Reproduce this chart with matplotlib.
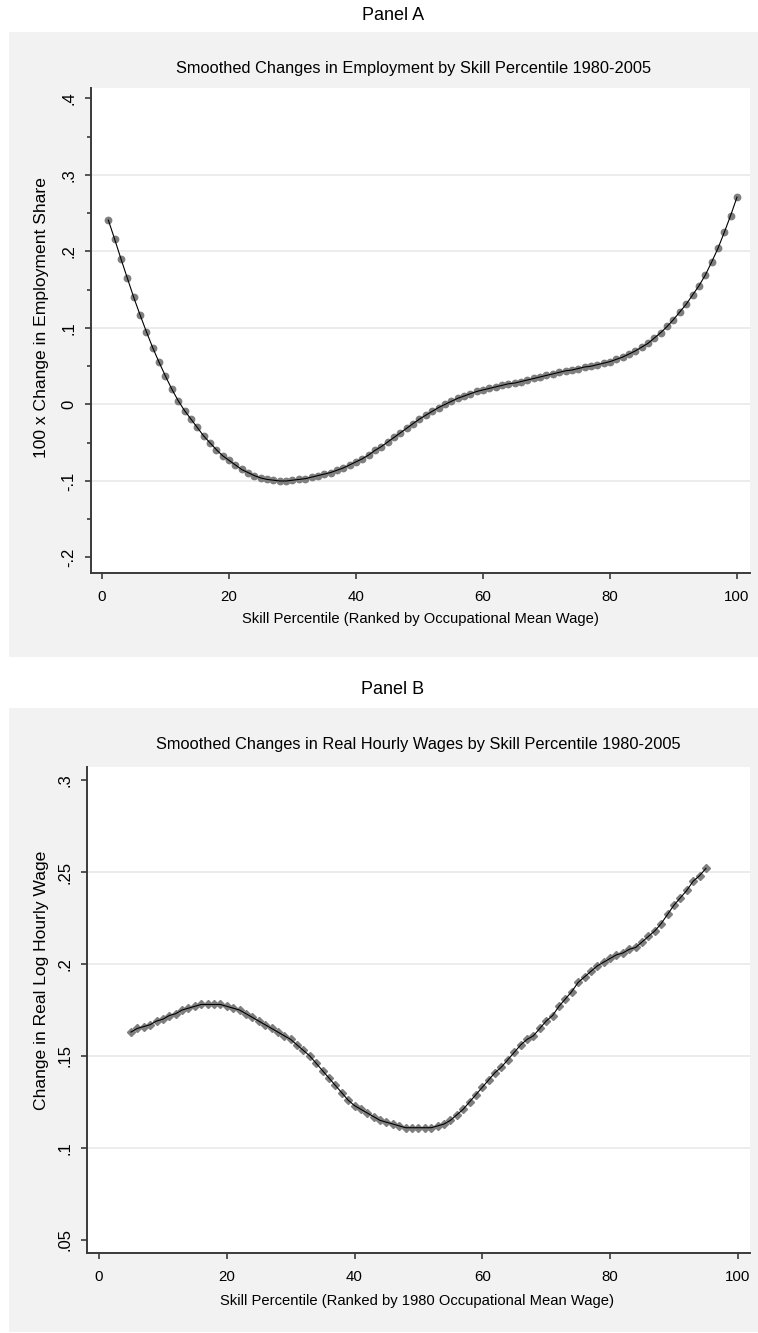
import numpy as np
import matplotlib.pyplot as plt
from matplotlib.patches import Rectangle

# Panel A: smoothed change in employment share, percentiles 1..100
emp_x = list(range(1, 101))
emp_y = [
    0.241, 0.216, 0.190, 0.165, 0.140, 0.117, 0.095, 0.074, 0.055, 0.037,
    0.020, 0.005, -0.008, -0.019, -0.030, -0.041, -0.050, -0.059, -0.067, -0.073,
    -0.079, -0.085, -0.089, -0.093, -0.096, -0.098, -0.099, -0.100, -0.100, -0.099,
    -0.098, -0.097, -0.095, -0.093, -0.091, -0.089, -0.086, -0.083, -0.079, -0.075,
    -0.071, -0.066, -0.060, -0.055, -0.049, -0.043, -0.037, -0.031, -0.025, -0.019,
    -0.014, -0.009, -0.004, 0.000, 0.004, 0.008, 0.011, 0.014, 0.017, 0.019,
    0.021, 0.023, 0.025, 0.027, 0.028, 0.030, 0.032, 0.034, 0.036, 0.038,
    0.040, 0.042, 0.044, 0.045, 0.047, 0.049, 0.050, 0.052, 0.054, 0.056,
    0.059, 0.062, 0.066, 0.070, 0.075, 0.080, 0.087, 0.094, 0.102, 0.111,
    0.121, 0.131, 0.143, 0.155, 0.169, 0.186, 0.204, 0.225, 0.247, 0.271,
]

# Panel B: smoothed change in real log hourly wage, percentiles 5..95
wage_x = list(range(5, 96))
wage_y = [
    0.163, 0.165, 0.166, 0.167, 0.169, 0.170, 0.172, 0.173, 0.175, 0.176,
    0.177, 0.178, 0.178, 0.178, 0.178, 0.177, 0.176, 0.175, 0.173, 0.171,
    0.169, 0.167, 0.165, 0.163, 0.161, 0.159, 0.156, 0.153, 0.150, 0.146,
    0.142, 0.138, 0.134, 0.130, 0.126, 0.123, 0.121, 0.119, 0.117, 0.115,
    0.114, 0.113, 0.112, 0.111, 0.111, 0.111, 0.111, 0.111, 0.112, 0.113,
    0.115, 0.118, 0.121, 0.125, 0.129, 0.133, 0.137, 0.141, 0.144, 0.148,
    0.152, 0.156, 0.159, 0.161, 0.165, 0.169, 0.172, 0.177, 0.181, 0.185,
    0.190, 0.193, 0.196, 0.199, 0.201, 0.203, 0.205, 0.206, 0.208, 0.209,
    0.212, 0.215, 0.218, 0.222, 0.227, 0.232, 0.236, 0.240, 0.245, 0.248,
    0.252,
]

x_ticks = [0, 20, 40, 60, 80, 100]
emp_ticks = [0.4, 0.3, 0.2, 0.1, 0.0, -0.1, -0.2]
emp_labels = ['.4', '.3', '.2', '.1', '0', '-.1', '-.2']
wage_ticks = [0.3, 0.25, 0.2, 0.15, 0.1, 0.05]
wage_labels = ['.3', '.25', '.2', '.15', '.1', '.05']

plt.rcParams['font.family'] = ['Liberation Sans', 'DejaVu Sans']
FS_PANEL = 13
FS_TITLE = 11.8
FS_XLAB = 10.6
FS_XTICK = 10.8
FS_YLAB = 12.6
FS_YTICK = 12
INK = '#3a3a3a'
MARK = '#7f7f7f'
W, H = 758, 1333

fig = plt.figure(figsize=(W / 100, H / 100), dpi=100, facecolor='white')


def fx(px):
    return px / W


def fy(py):
    return 1 - py / H


def panel_box(top, bottom):
    fig.patches.append(Rectangle((fx(9), fy(bottom)), fx(758) - fx(9), (bottom - top) / H,
                                 transform=fig.transFigure, facecolor='#f2f2f2',
                                 edgecolor='none', zorder=-5))


def make_axes(left, top, right, bottom):
    ax = fig.add_axes([fx(left), fy(bottom), (right - left) / W, (bottom - top) / H])
    ax.set_facecolor('white')
    for s in ['top', 'right']:
        ax.spines[s].set_visible(False)
    for s in ['left', 'bottom']:
        ax.spines[s].set_color(INK)
        ax.spines[s].set_linewidth(1.4)
    ax.tick_params(axis='both', colors=INK, length=4.5, width=1.2, labelcolor='black')
    ax.tick_params(axis='x', pad=8, labelsize=FS_XTICK)
    ax.tick_params(axis='y', pad=6, labelsize=FS_YTICK)
    ax.set_axisbelow(True)
    return ax


# ---- Panel A ----
panel_box(32, 657)
fig.text(fx(393), fy(15), 'Panel A', ha='center', va='center', fontsize=FS_PANEL)
axA = make_axes(91, 88, 750, 573)
axA.plot(emp_x, emp_y, 'o', color=MARK, ms=4.6, mec=MARK, zorder=3)
axA.plot(emp_x, emp_y, '-', color='black', lw=0.8, zorder=4)
axA.set_xlim(-1.73, 102.05)
axA.set_ylim(-0.2203, 0.4137)
axA.set_xticks(x_ticks)
axA.set_yticks(emp_ticks)
axA.set_yticklabels(emp_labels, rotation=90, va='center')
axA.set_yticks([0.35, 0.25, 0.15, 0.05, -0.05, -0.15], minor=True)
axA.tick_params(axis='y', which='minor', length=3, width=1.2, colors=INK)
axA.yaxis.grid(True, color='#ebebeb', lw=1.3)
gl = axA.get_ygridlines()
gl[0].set_visible(False)
gl[-1].set_visible(False)
fig.text(fx(414), fy(69), 'Smoothed Changes in Employment by Skill Percentile 1980-2005',
         ha='center', va='center', fontsize=FS_TITLE)
fig.text(fx(420), fy(619), 'Skill Percentile (Ranked by Occupational Mean Wage)',
         ha='center', va='center', fontsize=FS_XLAB)
fig.text(fx(42), fy(318), '100 x Change in Employment Share', rotation=90,
         ha='center', va='center', fontsize=FS_YLAB)

# ---- Panel B ----
panel_box(708, 1332)
fig.text(fx(393), fy(690), 'Panel B', ha='center', va='center', fontsize=FS_PANEL)
axB = make_axes(87, 767, 750, 1253)
axB.plot(wage_x, wage_y, 'D', color=MARK, ms=4.0, mec=MARK, zorder=3)
axB.plot(wage_x, wage_y, '-', color='black', lw=0.8, zorder=4)
axB.set_xlim(-1.88, 101.9)
axB.set_ylim(0.0429, 0.3071)
axB.set_xticks(x_ticks)
axB.set_yticks(wage_ticks)
axB.set_yticklabels(wage_labels, rotation=90, va='center')
axB.yaxis.grid(True, color='#ebebeb', lw=1.3)
gl = axB.get_ygridlines()
gl[0].set_visible(False)
gl[-1].set_visible(False)
fig.text(fx(418), fy(744), 'Smoothed Changes in Real Hourly Wages by Skill Percentile 1980-2005',
         ha='center', va='center', fontsize=FS_TITLE)
fig.text(fx(417), fy(1301), 'Skill Percentile (Ranked by 1980 Occupational Mean Wage)',
         ha='center', va='center', fontsize=FS_XLAB)
fig.text(fx(42), fy(980), 'Change in Real Log Hourly Wage', rotation=90,
         ha='center', va='center', fontsize=FS_YLAB)

fig.savefig('out.png', dpi=100, facecolor='white')
